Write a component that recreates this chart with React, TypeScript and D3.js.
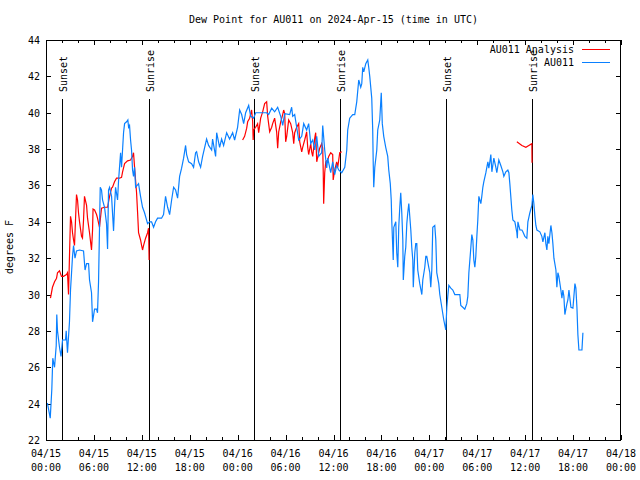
import React from "react";
import * as d3 from "d3";

// hours since 2024-04-15 00:00 UTC
const obsHours = [0.03,0.19,0.53,0.73,0.85,1.07,1.28,1.35,1.44,1.69,1.88,2.07,2.44,2.53,2.69,2.94,3.07,3.2,3.32,3.45,3.63,3.82,4.2,4.7,4.89,5.08,5.33,5.45,5.7,5.83,6.08,6.33,6.45,6.58,6.79,6.95,7.08,7.33,7.58,7.71,7.83,7.96,8.21,8.46,8.58,8.71,8.96,9.09,9.34,9.46,9.71,9.84,10.09,10.25,10.34,10.46,10.59,10.71,10.84,10.96,11.09,11.22,11.59,11.84,12.09,12.34,12.72,12.97,13.22,13.47,13.72,13.97,14.47,14.72,14.97,15.23,15.48,15.73,15.98,16.23,16.48,16.73,16.98,17.23,17.48,17.61,17.86,18.23,18.48,18.73,18.86,19.11,19.36,19.61,20.11,20.36,20.74,20.86,21.24,21.37,21.74,21.99,22.24,22.62,22.99,23.37,23.62,23.99,24.25,24.5,24.75,25.0,25.38,25.63,26.0,26.25,26.75,27.63,27.88,28.26,28.63,29.01,29.39,29.64,29.89,30.51,30.76,30.89,31.14,31.39,31.64,32.02,32.27,32.64,32.89,33.15,33.4,33.65,33.9,34.15,34.52,34.65,34.9,35.15,35.28,35.65,35.9,36.15,36.4,36.65,37.03,37.41,37.66,37.78,38.03,38.41,38.66,38.91,39.16,39.41,39.54,39.66,39.79,40.04,40.29,40.41,40.54,40.79,40.91,40.98,41.04,41.17,41.42,41.54,41.79,41.98,42.11,42.29,42.54,42.79,42.92,43.11,43.23,43.3,43.42,43.48,43.55,43.8,43.92,44.05,44.17,44.3,44.42,44.55,44.68,44.74,44.92,45.05,45.18,45.3,45.43,45.68,45.8,45.93,45.99,46.18,46.3,46.43,46.55,46.8,47.06,47.18,47.43,47.56,47.68,47.93,48.06,48.18,48.31,48.43,48.68,48.81,48.93,49.18,49.31,49.56,49.81,50.06,50.19,50.31,50.44,50.69,50.94,51.19,51.82,51.94,52.19,52.44,52.69,52.82,52.95,53.2,53.32,53.45,53.57,53.7,53.82,53.95,54.07,54.2,54.32,54.45,54.57,54.7,54.82,55.08,55.2,55.33,55.45,55.58,55.7,55.83,56.08,56.33,56.45,56.7,56.95,57.21,57.33,57.58,57.83,57.96,58.08,58.33,58.46,58.71,58.96,59.02,59.09,59.34,59.59,59.71,59.96,60.21,60.34,60.59,60.84,60.96,61.09,61.22,61.34,61.47,61.84,62.09,62.22,62.47,62.59,62.72,62.84,62.97,63.22,63.35,63.47,63.6,63.85,63.97,64.1,64.22,64.47,64.6,64.72,64.85,64.97,65.23,65.35,65.48,65.73,65.98,66.1,66.23,66.35,66.48,66.6,66.73,67.11,67.23];
const obsDewp = [24.0,24.0,23.2,24.8,26.5,26.0,27.2,28.9,28.0,27.1,26.6,27.5,27.5,28.0,26.8,28.5,30.25,31.2,32.1,32.7,32.0,32.4,32.45,32.4,31.35,31.7,31.7,30.8,30.1,28.5,29.2,29.2,29.0,30.7,35.9,35.75,35.2,34.8,33.9,32.5,35.75,35.9,35.4,33.5,34.8,35.9,35.2,36.3,37.8,37.0,38.9,39.4,39.5,39.6,39.2,39.3,38.5,37.95,36.85,36.5,37.0,35.9,36.1,35.4,34.8,34.5,33.9,34.0,34.0,33.7,34.0,34.2,34.2,34.4,35.4,34.8,34.4,35.2,35.9,35.75,35.3,36.5,36.95,37.5,38.2,37.7,37.3,37.2,37.0,37.8,37.86,37.3,37.0,37.6,38.55,38.2,37.95,38.55,37.6,38.9,38.1,38.55,38.2,38.9,38.55,38.9,38.5,39.2,40.15,39.9,39.4,40.0,40.4,39.8,39.7,40.0,40.0,40.0,39.9,40.25,40.05,40.3,39.8,39.3,39.95,39.9,40.3,39.8,39.9,39.2,38.5,38.7,39.4,39.05,39.4,38.3,38.5,37.95,38.7,37.6,37.8,39.3,37.95,36.96,37.5,36.7,37.3,36.6,37.1,36.85,36.7,37.0,37.95,39.05,39.7,39.9,39.9,40.6,41.8,41.4,41.6,42.5,42.25,42.7,42.9,42.5,42.0,40.8,39.05,37.1,35.9,37.0,37.95,39.05,39.6,41.1,39.4,38.7,38.1,37.6,36.85,36.1,35.2,34.0,32.6,31.9,33.7,34.0,32.3,31.5,33.7,34.8,35.6,34.5,33.0,30.8,32.1,32.6,33.9,34.5,35.0,33.55,32.6,31.9,30.4,32.3,32.8,32.8,31.35,30.6,30.0,30.8,31.5,32.1,32.1,31.5,31.2,30.4,31.35,33.7,33.8,33.0,31.2,30.6,30.0,29.3,28.6,28.05,29.3,29.9,30.5,30.35,30.25,30.0,30.0,29.4,29.3,29.2,29.5,29.9,31.2,32.6,33.3,33.0,31.9,31.5,32.1,33.2,34.1,35.4,35.2,35.0,35.4,35.9,36.2,36.7,37.0,37.3,36.95,37.3,37.7,36.75,37.5,37.0,36.7,37.4,37.1,36.75,36.5,36.75,36.85,36.7,36.1,34.65,34.1,34.0,33.4,33.1,34.0,33.55,33.55,33.45,33.2,33.1,34.0,34.5,34.9,35.5,35.0,34.3,33.8,33.55,33.45,33.2,32.9,33.4,32.8,32.45,33.2,32.8,33.8,33.4,32.8,32.0,31.35,30.4,31.2,31.0,30.25,29.8,30.25,29.9,28.9,29.5,29.7,30.25,29.3,29.25,29.9,30.6,30.35,29.3,27.8,26.95,26.95,27.9];

// analysis series; null marks a gap
const anaHours = [0.56,0.81,1.07,1.32,1.44,1.69,1.94,2.19,2.57,2.69,2.82,2.94,3.07,3.2,3.32,3.45,3.57,3.82,3.95,4.07,4.2,4.45,4.57,4.7,4.82,5.08,5.2,5.45,5.7,5.83,5.89,6.08,6.33,6.45,6.7,6.95,7.33,7.71,7.96,8.21,8.33,8.58,8.83,9.21,9.46,9.59,9.84,10.21,10.59,10.84,10.96,11.09,11.34,11.47,11.59,11.84,11.97,12.09,12.22,12.47,12.72,12.84,12.91,
  18,
  24.62,24.87,25.13,25.25,25.5,25.75,25.88,25.94,26.0,26.25,26.5,26.63,26.88,27.13,27.38,27.63,27.76,28.01,28.26,28.38,28.63,28.88,29.01,29.14,29.39,29.64,29.76,29.89,30.01,30.14,30.39,30.64,30.89,31.02,31.14,31.39,31.64,31.77,32.02,32.14,32.39,32.64,32.77,32.89,33.15,33.27,33.4,33.65,33.77,33.9,34.15,34.27,34.52,34.65,34.71,34.77,34.9,35.03,35.28,35.4,35.65,35.9,35.96,36.15,36.4,36.53,36.78,37.03,
  48,
  58.96,59.59,60.09,60.46,60.84,60.86];
const anaDewp = [29.8,30.4,30.7,30.9,31.2,31.3,31.0,31.0,31.1,31.2,30.0,32.1,34.3,34.0,33.4,33.0,32.7,35.5,35.2,34.5,34.0,33.2,33.1,34.1,35.4,34.9,34.2,33.4,32.45,33.55,34.7,34.65,34.4,34.2,33.7,34.75,34.8,34.8,35.4,35.85,35.9,36.2,36.4,36.4,36.45,36.75,37.2,37.35,37.4,37.6,37.8,37.0,35.6,34.5,33.4,33.0,32.7,32.45,32.7,33.1,33.4,33.65,31.9,
  null,
  38.5,38.7,39.15,39.5,39.7,40.15,39.5,38.5,39.05,39.2,39.4,38.9,39.7,40.05,40.5,40.6,39.8,38.95,39.2,39.4,39.7,38.95,38.05,38.95,39.5,39.9,40.15,39.95,38.4,38.7,39.6,39.4,38.9,38.3,38.9,39.2,39.4,38.4,37.85,38.1,38.5,38.95,38.1,37.7,38.3,37.85,37.6,38.6,38.9,37.3,37.8,38.05,38.3,38.05,36.85,35.0,36.7,37.3,37.4,37.6,37.8,37.7,36.3,36.85,37.3,37.0,37.8,37.85,
  null,
  38.4,38.2,38.1,38.2,38.3,37.25];

const sunHours = [1.98, 12.88, 26.04, 36.82, 50.13, 60.88];
const sunLabels = ["Sunset", "Sunrise", "Sunset", "Sunrise", "Sunset", "Sunrise"];
const yTickValues = [22, 24, 26, 28, 30, 32, 34, 36, 38, 40, 42, 44];
const seriesNames = ["AU011 Analysis", "AU011"];
const seriesColors = ["#ff0000", "#0a80ff"];

const T0 = Date.UTC(2024, 3, 15);
const toDate = (h: number) => new Date(T0 + h * 3600e3);

const W = 640, H = 480;
const L = 46, R = 621, TOP = 40, BOT = 440;
const FONT = "'DejaVu Sans Mono', 'Liberation Mono', monospace";

export default function App() {
  const x = d3.scaleUtc().domain([toDate(0), toDate(72)]).range([L, R]);
  const y = d3.scaleLinear().domain([22, 44]).range([BOT, TOP]);

  const line = d3
    .line<[number, number | null]>()
    .defined((d) => d[1] != null)
    .x((d) => x(toDate(d[0])))
    .y((d) => y(d[1] as number));

  const obs: [number, number | null][] = obsHours.map((h, i) => [h, obsDewp[i]]);
  const ana: [number, number | null][] = anaHours.map((h, i) => [h, anaDewp[i]]);

  const minor = x.ticks(d3.utcHour.every(2) as any);
  const fmtD = d3.utcFormat("%m/%d");
  const fmtT = d3.utcFormat("%H:%M");

  return (
    <svg width={W} height={H} style={{ position: "absolute", left: 0, top: 0, background: "#fff" }}>
      <rect x={0} y={0} width={W} height={H} fill="#fff" />
      <text x={(L + R) / 2} y={23} textAnchor="middle" fontFamily={FONT} fontSize={10}>
        Dew Point for AU011 on 2024-Apr-15 (time in UTC)
      </text>
      {/* ticks */}
      <g shapeRendering="crispEdges" stroke="#000">
        {yTickValues.map((v) => (
          <g key={v}>
            <line x1={L} x2={L + 5} y1={Math.round(y(v)) + 0.5} y2={Math.round(y(v)) + 0.5} />
            <line x1={R - 5} x2={R} y1={Math.round(y(v)) + 0.5} y2={Math.round(y(v)) + 0.5} />
          </g>
        ))}
        {minor.map((d, i) => {
          const xx = Math.round(x(d)) + 0.5;
          const major = d.getUTCHours() % 6 === 0;
          const len = major ? 5 : 3;
          return (
            <g key={i}>
              <line x1={xx} x2={xx} y1={BOT} y2={BOT - len} />
              <line x1={xx} x2={xx} y1={TOP} y2={TOP + len} />
            </g>
          );
        })}
      </g>
      {yTickValues.map((v) => (
        <text key={v} x={40} y={y(v) + 4} textAnchor="end" fontFamily={FONT} fontSize={10}>
          {v}
        </text>
      ))}
      {minor
        .filter((d) => d.getUTCHours() % 6 === 0)
        .map((d, i) => (
          <text key={i} x={x(d)} y={457} textAnchor="middle" fontFamily={FONT} fontSize={10}>
            <tspan x={x(d)} y={457}>{fmtD(d)}</tspan>
            <tspan x={x(d)} y={471}>{fmtT(d)}</tspan>
          </text>
        ))}
      <text
        transform={`translate(13,${(TOP + BOT) / 2 + 7}) rotate(-90)`}
        textAnchor="middle"
        fontFamily={FONT}
        fontSize={10}
      >
        degrees F
      </text>
      {/* sun events */}
      {sunHours.map((h, i) => {
        const xx = Math.round(x(toDate(h))) + 0.5;
        return (
          <g key={i}>
            <line x1={xx} x2={xx} y1={99} y2={BOT} stroke="#000" strokeWidth={1} shapeRendering="crispEdges" />
            <text
              transform={`translate(${xx + 4},92) rotate(-90)`}
              fontFamily={FONT}
              fontSize={10}
            >
              {sunLabels[i]}
            </text>
          </g>
        );
      })}
      <path d={line(ana) || ""} fill="none" stroke={seriesColors[0]} strokeWidth={1.2} />
      <path d={line(obs) || ""} fill="none" stroke={seriesColors[1]} strokeWidth={1.2} />
      {/* legend */}
      {seriesNames.map((n, i) => (
        <g key={n}>
          <text x={574} y={53 + i * 13} textAnchor="end" fontFamily={FONT} fontSize={10}>
            {n}
          </text>
          <line x1={582} x2={610} y1={49.5 + i * 13} y2={49.5 + i * 13} stroke={seriesColors[i]} strokeWidth={1} shapeRendering="crispEdges" />
        </g>
      ))}
      <rect x={L + 0.5} y={TOP + 0.5} width={R - L - 1} height={BOT - TOP} fill="none" stroke="#000" shapeRendering="crispEdges" />
    </svg>
  );
}
